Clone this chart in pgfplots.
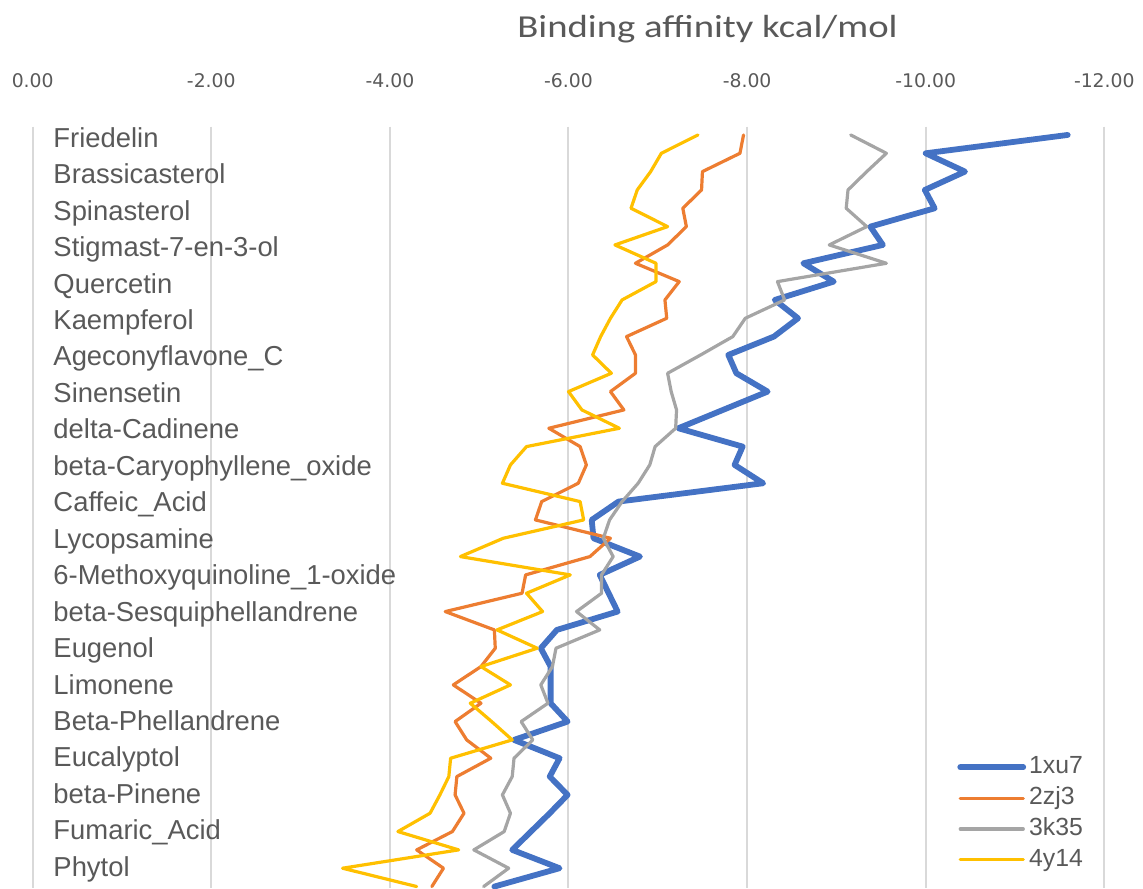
\documentclass[border=0pt]{standalone}
\usepackage{pgfplots}
\pgfplotsset{compat=1.18}
\usepackage{pgfplotstable}
\usepackage{fontspec}
\setmainfont{Liberation Sans}
\newfontfamily\tickfont{DejaVu Sans}
\newfontfamily\titlefont[FakeStretch=1.21]{Carlito}
\definecolor{c1}{HTML}{4472C4}
\definecolor{c2}{HTML}{ED7D31}
\definecolor{c3}{HTML}{A5A5A5}
\definecolor{c4}{HTML}{FFC000}
\definecolor{txt}{HTML}{595959}
\definecolor{gridc}{HTML}{D9D9D9}

\pgfplotstableread{
k  blue    orange  gray    yellow
0  -11.59  -7.96   -9.16   -7.45
1  -10.00  -7.92   -9.56   -7.04
2  -10.44  -7.50   -9.34   -6.92
3  -9.99   -7.49   -9.13   -6.77
4  -10.10  -7.28   -9.11   -6.70
5  -9.38   -7.32   -9.34   -7.11
6  -9.52   -7.11   -8.92   -6.52
7  -8.63   -6.75   -9.56   -6.98
8  -8.97   -7.24   -8.34   -6.98
9  -8.31   -7.08   -8.42   -6.60
10 -8.57   -7.10   -7.98   -6.47
11 -8.30   -6.65   -7.84   -6.36
12 -7.79   -6.75   -7.48   -6.27
13 -7.88   -6.75   -7.11   -6.48
14 -8.23   -6.47   -7.15   -6.00
15 -7.73   -6.62   -7.21   -6.15
16 -7.23   -5.78   -7.20   -6.57
17 -7.95   -6.13   -6.97   -5.53
18 -7.86   -6.20   -6.91   -5.35
19 -8.18   -6.11   -6.78   -5.26
20 -6.56   -5.70   -6.60   -6.13
21 -6.26   -5.63   -6.46   -6.17
22 -6.28   -6.47   -6.39   -5.27
23 -6.80   -6.24   -6.50   -4.79
24 -6.35   -5.52   -6.37   -6.02
25 -6.45   -5.48   -6.37   -5.53
26 -6.55   -4.62   -6.09   -5.71
27 -5.87   -5.17   -6.35   -5.20
28 -5.69   -5.18   -5.86   -5.65
29 -5.80   -5.02   -5.82   -5.02
30 -5.80   -4.71   -5.69   -5.35
31 -5.80   -5.02   -5.77   -4.90
32 -5.99   -4.73   -5.47   -5.14
33 -5.39   -4.86   -5.60   -5.37
34 -5.90   -5.13   -5.39   -4.68
35 -5.79   -4.75   -5.37   -4.66
36 -5.99   -4.73   -5.26   -4.56
37 -5.79   -4.83   -5.35   -4.45
38 -5.58   -4.70   -5.28   -4.09
39 -5.37   -4.30   -4.94   -4.77
40 -5.90   -4.60   -5.33   -3.47
41 -5.17   -4.47   -5.05   -4.30
}\datatable

\begin{document}
\begin{tikzpicture}
\begin{axis}[
  at={(0pt,0pt)}, anchor=south west,
  scale only axis, width=535.8pt, height=380.65pt,
  x dir=reverse, xmin=-12, xmax=0,
  y dir=reverse, ymin=-0.45, ymax=41.08,
  xtick={0,-2,-4,-6,-8,-10,-12},
  xticklabels={0.00,-2.00,-4.00,-6.00,-8.00,-10.00,-12.00},
  xticklabel pos=top,
  xticklabel style={font=\tickfont\fontsize{9.4}{11}\selectfont, text=txt, anchor=base, inner sep=0pt, yshift=19.7pt},
  ytick={0,1.9886,...,39.9},
  yticklabels={Friedelin,Brassicasterol,Spinasterol,Stigmast-7-en-3-ol,Quercetin,Kaempferol,Ageconyflavone\_C,Sinensetin,delta-Cadinene,beta-Caryophyllene\_oxide,Caffeic\_Acid,Lycopsamine,6-Methoxyquinoline\_1-oxide,beta-Sesquiphellandrene,Eugenol,Limonene,Beta-Phellandrene,Eucalyptol,beta-Pinene,Fumaric\_Acid,Phytol},
  yticklabel style={font=\fontsize{13.7}{16}\selectfont, text=txt, anchor=base west, inner sep=0pt, xshift=10.2pt, yshift=-6.15pt},
  major tick length=0pt,
  axis line style={draw=none},
  xmajorgrids, grid style={gridc, line width=1pt},
  legend cell align=left,
  legend style={at={(axis description cs:0.8625,0.178)}, anchor=north west, draw=none, fill=none, inner sep=0pt,
    font=\fontsize{12.4}{14}\selectfont, text=txt, row sep=1pt,
    nodes={inner sep=1.5pt, text height=8.9pt, text depth=2.5pt}},
  legend image code/.code={\draw[#1, line cap=round] (0pt,0pt) -- (31.5pt,0pt);},
  every axis plot/.append style={line join=round, line cap=round},
]
\addplot[c1, line width=2.9pt] table[x=blue, y=k] {\datatable};
\addplot[c2, line width=1.6pt] table[x=orange, y=k] {\datatable};
\addplot[c3, line width=1.6pt] table[x=gray, y=k] {\datatable};
\addplot[c4, line width=1.6pt] table[x=yellow, y=k] {\datatable};
\legend{1xu7,2zj3,3k35,4y14}
\end{axis}
\node[anchor=base, inner sep=0pt, text=txt, font=\titlefont\fontsize{16}{19}\selectfont] at (337.4pt,425.35pt) {Binding affinity kcal/mol};
\pgfresetboundingbox
\path[use as bounding box] (-16.35pt,0pt) rectangle (555.15pt,444pt);
\end{tikzpicture}
\end{document}
